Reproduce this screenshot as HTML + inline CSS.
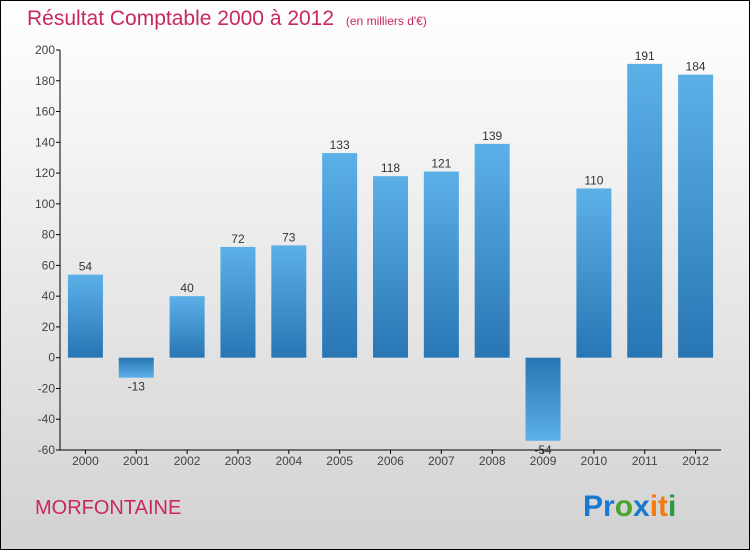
<!DOCTYPE html>
<html><head><meta charset="utf-8"><style>
html,body{margin:0;padding:0}
body{width:750px;height:550px;overflow:hidden;font-family:"Liberation Sans",sans-serif}
</style></head><body>
<svg width="750" height="550" xmlns="http://www.w3.org/2000/svg">
<defs>
<linearGradient id="bg" x1="0" y1="0" x2="0" y2="1"><stop offset="0" stop-color="#ffffff"/><stop offset="1" stop-color="#d2d2d2"/></linearGradient>
<linearGradient id="pos" x1="0" y1="0" x2="0" y2="1"><stop offset="0" stop-color="#5cb0e8"/><stop offset="1" stop-color="#2876b4"/></linearGradient>
<linearGradient id="neg" x1="0" y1="0" x2="0" y2="1"><stop offset="0" stop-color="#2876b4"/><stop offset="1" stop-color="#5cb0e8"/></linearGradient>
</defs>
<rect x="0.5" y="0.5" width="749" height="549" fill="url(#bg)" stroke="#000"/>
<text x="27" y="25" font-size="21" fill="#c8285a">Résultat Comptable 2000 à 2012 <tspan font-size="12" dx="6">(en milliers d'€)</tspan></text>
<g id="axes"></g>
<g id="bars"></g>
<text x="35" y="514" font-size="20" fill="#c8285a">MORFONTAINE</text>
<g font-size="30" font-weight="bold" font-family="'Liberation Sans',sans-serif">
<text x="583" y="516"><tspan fill="#1a78d0">Pr</tspan><tspan fill="#4aa52e">o</tspan><tspan fill="#1a78d0">x</tspan><tspan fill="#f07c10">i</tspan><tspan fill="#f07c10">t</tspan><tspan fill="#2a9a3a">i</tspan></text>
</g>
</svg>
<script>
const categories=["2000","2001","2002","2003","2004","2005","2006","2007","2008","2009","2010","2011","2012"];
const values=[54,-13,40,72,73,133,118,121,139,-54,110,191,184];
const ticks=[-60,-40,-20,0,20,40,60,80,100,120,140,160,180,200];
const NS="http://www.w3.org/2000/svg";
const x0=60,x1=721,yTop=50,yBot=450,vMin=-60,vMax=200;
const y=v=>yBot-(v-vMin)/(vMax-vMin)*(yBot-yTop);
const slot=(x1-x0)/categories.length;
const xc=i=>x0+slot*(i+0.5);
function mk(t,a,p){const e=document.createElementNS(NS,t);for(const k in a)e.setAttribute(k,a[k]);p.appendChild(e);return e;}
const ax=document.getElementById('axes'),bars=document.getElementById('bars');
const ya=mk('line',{x1:x0,y1:yTop,x2:x0,y2:yBot,stroke:'#000'},ax);


const xa=mk('line',{x1:x0,y1:yBot,x2:x1,y2:yBot,stroke:'#000'},ax);


ticks.forEach(t=>{
 mk('line',{x1:x0-4,y1:y(t),x2:x0,y2:y(t),stroke:'#000'},ax);
 const tx=mk('text',{x:x0-5,y:y(t)+4,'font-size':12,'text-anchor':'end',fill:'#444'},ax);
 tx.textContent=t;
 
 
});
categories.forEach((c,i)=>{
 mk('line',{x1:xc(i),y1:yBot,x2:xc(i),y2:yBot+4,stroke:'#000'},ax);
 const tx=mk('text',{x:xc(i),y:yBot+15,'font-size':12,'text-anchor':'middle',fill:'#444'},ax);
 tx.textContent=c;
 
 
 const v=values[i],bw=35;
 const top=Math.min(y(v),y(0)),h=Math.abs(y(v)-y(0));
 const r=mk('rect',{x:xc(i)-bw/2,y:top,width:bw,height:h,fill:v>=0?'url(#pos)':'url(#neg)'},bars);
 
 
 const lb=mk('text',{x:xc(i),y:v>=0?y(v)-4:y(v)+13,'font-size':12,'text-anchor':'middle',fill:'#333'},bars);
 lb.textContent=v;
 
 
});
</script>
</body></html>
